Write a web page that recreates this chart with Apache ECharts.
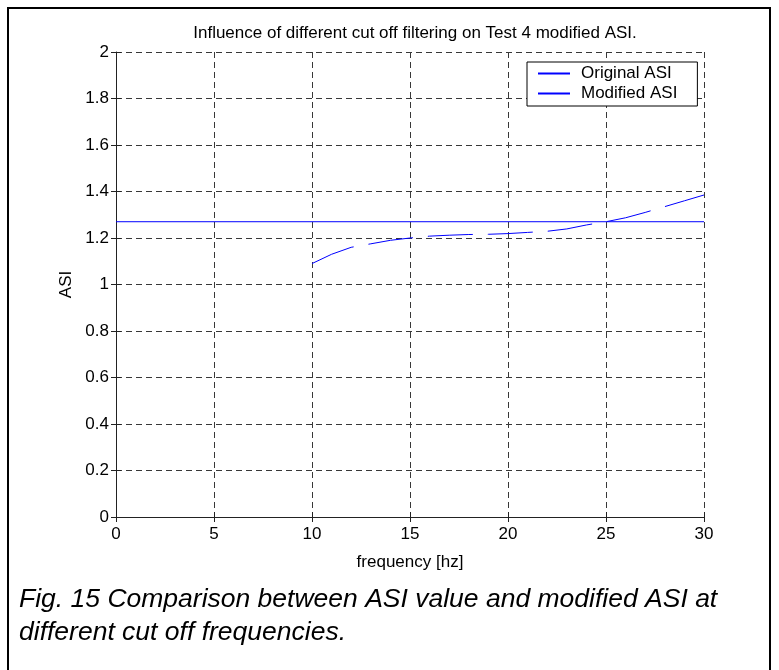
<!DOCTYPE html>
<html>
<head>
<meta charset="utf-8">
<script src="https://cdn.jsdelivr.net/npm/echarts@6/dist/echarts.min.js"></script>
<style>
  html, body { margin: 0; padding: 0; background: #fff; }
  #chart { width: 779px; height: 670px; }
</style>
</head>
<body>
<div id="chart"></div>
<script>
// values
const origFreq = [0, 30]
const origAsi = [1.27, 1.27]
const modFreq = [10, 11, 12, 13, 14, 15, 16, 17, 18, 19, 20, 21, 22, 23, 24, 25, 26, 27, 28, 29, 30]
const modAsi = [1.09, 1.13, 1.16, 1.175, 1.19, 1.2, 1.208, 1.212, 1.215, 1.216, 1.219, 1.224, 1.229, 1.239, 1.256, 1.27, 1.287, 1.31, 1.335, 1.36, 1.385]
const seriesNames = ['Original ASI', 'Modified ASI']
const titleText = 'Influence of different cut off filtering on Test 4 modified ASI.'
const captionLines = [
  'Fig. 15 Comparison between ASI value and modified ASI at',
  'different cut off frequencies.'
]

const font = '"Liberation Sans", Arial, sans-serif'
const gridDash = { color: '#383838', type: [6, 4], width: 1 }
const blue = '#0000ff'

const myChart = echarts.init(document.getElementById('chart'))
const option = {
  backgroundColor: '#fff',
  animation: false,
  color: [blue, blue],
  title: {
    text: titleText,
    left: 410,
    top: 20,
    textAlign: 'center',
    textStyle: { fontFamily: font, fontSize: 17, fontWeight: 'normal', color: '#000' }
  },
  grid: { left: 116, top: 52, width: 588, height: 465 },
  legend: {
    data: seriesNames,
    orient: 'vertical',
    left: 527,
    top: 62,
    icon: 'rect',
    itemWidth: 32,
    itemHeight: 2,
    itemGap: 3,
    padding: [3, 20, 4, 11],
    borderColor: '#000',
    borderWidth: 1,
    backgroundColor: '#fff',
    itemStyle: { color: blue, opacity: 1 },
    textStyle: { fontFamily: font, fontSize: 17, color: '#000', padding: [0, 0, 0, 6] }
  },
  xAxis: [
    {
      type: 'value',
      min: 0,
      max: 30,
      interval: 5,
      name: 'frequency [hz]',
      nameLocation: 'middle',
      nameGap: 37,
      nameTextStyle: { fontFamily: font, fontSize: 17, color: '#000' },
      axisLine: { show: true, lineStyle: { color: '#222' } },
      axisTick: { inside: true, length: 5, lineStyle: { color: '#222' } },
      axisLabel: { fontFamily: font, fontSize: 17, color: '#000', margin: 9 },
      splitLine: { show: true, lineStyle: gridDash }
    },
    {
      type: 'value',
      position: 'top',
      min: 0,
      max: 30,
      interval: 5,
      axisLine: { show: false },
      axisTick: { show: true, inside: true, length: 5, lineStyle: { color: '#222' } },
      axisLabel: { show: false },
      splitLine: { show: false }
    }
  ],
  yAxis: [
    {
      type: 'value',
      min: 0,
      max: 2,
      interval: 0.2,
      name: 'ASI',
      nameLocation: 'middle',
      nameGap: 37,
      nameTextStyle: { fontFamily: font, fontSize: 17, color: '#000' },
      axisLine: { show: true, lineStyle: { color: '#222' } },
      axisTick: { show: true, inside: true, length: 5, lineStyle: { color: '#222' } },
      axisLabel: { fontFamily: font, fontSize: 17, color: '#000', margin: 7 },
      splitLine: { show: true, lineStyle: gridDash }
    },
    {
      type: 'value',
      position: 'right',
      min: 0,
      max: 2,
      interval: 0.2,
      axisLine: { show: false },
      axisTick: { show: true, inside: true, length: 5, lineStyle: { color: '#222' } },
      axisLabel: { show: false },
      splitLine: { show: false }
    }
  ],
  series: [
    {
      name: seriesNames[0],
      type: 'line',
      symbol: 'none',
      itemStyle: { color: blue },
      lineStyle: { width: 1, color: blue },
      data: origFreq.map((f, i) => [f, origAsi[i]])
    },
    {
      name: seriesNames[1],
      type: 'line',
      symbol: 'none',
      itemStyle: { color: blue },
      lineStyle: { width: 1, color: blue, type: [45, 15] },
      data: modFreq.map((f, i) => [f, modAsi[i]])
    }
  ],
  graphic: [
    {
      type: 'rect',
      shape: { x: 8, y: 8, width: 762, height: 700 },
      style: { fill: null, stroke: '#000', lineWidth: 2 },
      silent: true
    },
    {
      type: 'text',
      left: 19,
      top: 586,
      style: { text: captionLines[0], font: 'italic 26.5px ' + font, fill: '#000' }
    },
    {
      type: 'text',
      left: 19,
      top: 619,
      style: { text: captionLines[1], font: 'italic 26.5px ' + font, fill: '#000' }
    }
  ]
}
myChart.setOption(option)
</script>
</body>
</html>
